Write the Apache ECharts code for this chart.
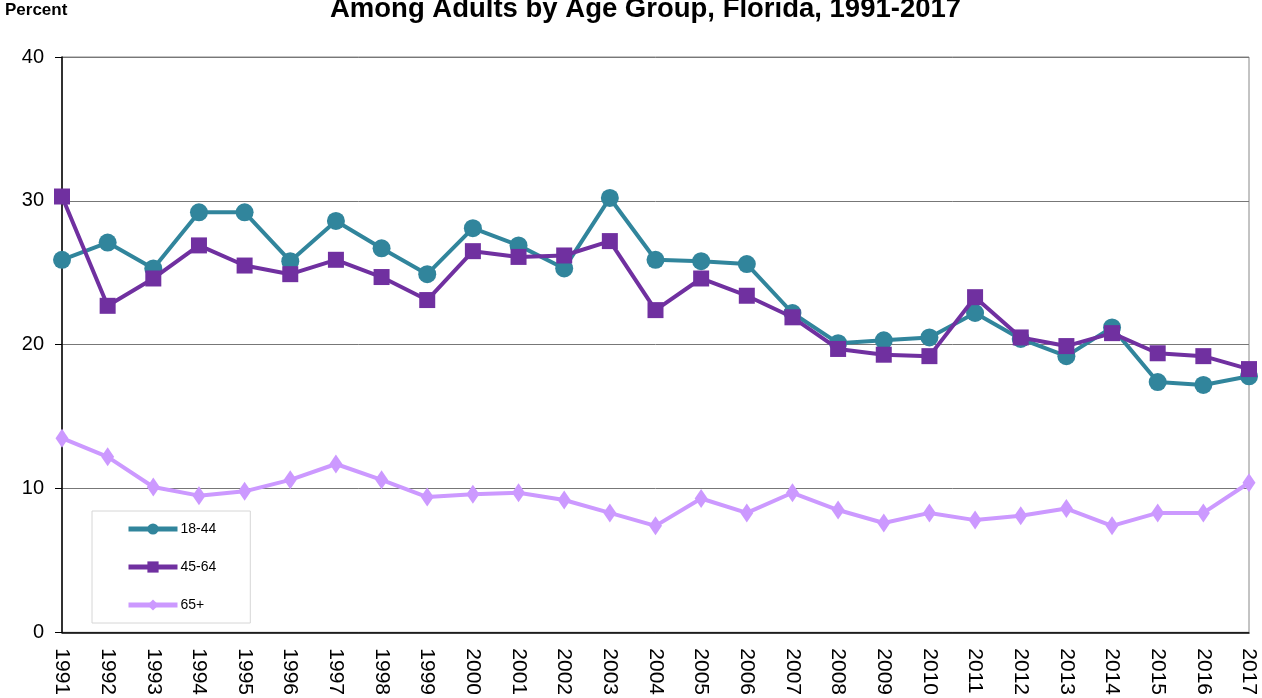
<!DOCTYPE html>
<html><head><meta charset="utf-8">
<script src="https://cdn.jsdelivr.net/npm/echarts@6/dist/echarts.min.js"></script>
<style>html,body{margin:0;padding:0;background:#fff}#c{width:1262px;height:698px}</style>
</head><body><div id="c"></div>
<script>
const years = ['1991','1992','1993','1994','1995','1996','1997','1998','1999','2000','2001','2002','2003','2004','2005','2006','2007','2008','2009','2010','2011','2012','2013','2014','2015','2016','2017'];
const age18_44 = [25.9,27.1,25.3,29.2,29.2,25.8,28.6,26.7,24.9,28.1,26.9,25.3,30.2,25.9,25.8,25.6,22.2,20.1,20.3,20.5,22.2,20.4,19.2,21.2,17.4,17.2,17.8];
const age45_64 = [30.3,22.7,24.6,26.9,25.5,24.9,25.9,24.7,23.1,26.5,26.1,26.2,27.2,22.4,24.6,23.4,21.9,19.7,19.3,19.2,23.3,20.5,19.9,20.8,19.4,19.2,18.3];
const age65 = [13.5,12.2,10.1,9.5,9.8,10.6,11.7,10.6,9.4,9.6,9.7,9.2,8.3,7.4,9.3,8.3,9.7,8.5,7.6,8.3,7.8,8.1,8.6,7.4,8.3,8.3,10.4];
const yTicks = [0,10,20,30,40];

const chart = echarts.init(document.getElementById('c'), null, {renderer:'canvas'});
const font = 'Liberation Sans, Arial, sans-serif';
chart.setOption({
  animation:false,
  backgroundColor:'#fff',
  textStyle:{fontFamily:font},
  title:{text:'Among Adults by Age Group, Florida, 1991-2017', left:325, top:-10,
    textStyle:{fontSize:27.5, fontWeight:'bold', color:'#000', fontFamily:font}},
  graphic:[{type:'text', left:5, top:2, style:{text:'Percent', fontSize:17, fontWeight:'bold', fill:'#000', fontFamily:font}}],
  grid:{left:62, right:13, top:57, bottom:65, show:true, borderColor:'#888', borderWidth:1},
  legend:{orient:'vertical', left:92, top:511, itemWidth:49, itemHeight:14, itemGap:24,
    padding:[11,34,11,34], backgroundColor:'#fff', borderColor:'#d6d6d6', borderWidth:1,
    lineStyle:{width:5},
    textStyle:{fontSize:14, color:'#000', padding:[0,0,0,-2]},
    data:['18-44','45-64','65+']},
  xAxis:{type:'category', data:years, boundaryGap:false,
    axisLine:{lineStyle:{color:'#000', width:1.5}}, axisTick:{show:false},
    axisLabel:{rotate:-90, fontSize:21, color:'#000', margin:16, interval:0}},
  yAxis:{type:'value', min:0, max:40, interval:10,
    axisLine:{show:true, lineStyle:{color:'#000', width:1.5}},
    axisTick:{show:true, length:7, lineStyle:{color:'#000'}},
    axisLabel:{fontSize:20, color:'#000', margin:18, formatter:v=>yTicks.includes(v)?String(v):''},
    splitLine:{lineStyle:{color:'#777', width:1}}},
  series:[
    {name:'18-44', type:'line', data:age18_44, color:'#31859C', symbol:'circle', symbolSize:18,
      lineStyle:{width:4}, itemStyle:{color:'#31859C'}, z:3},
    {name:'45-64', type:'line', data:age45_64, color:'#7030A0', symbol:'rect', symbolSize:16,
      lineStyle:{width:4}, itemStyle:{color:'#7030A0'}, z:4},
    {name:'65+', type:'line', data:age65, color:'#CC99FF', symbol:'diamond', symbolSize:[13,19],
      lineStyle:{width:4}, itemStyle:{color:'#CC99FF'}, z:2}
  ]
});
</script></body></html>
